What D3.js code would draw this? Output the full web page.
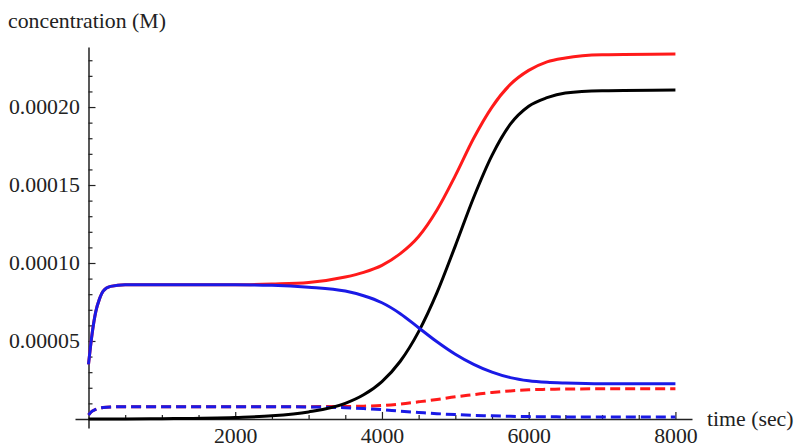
<!DOCTYPE html>
<html lang="en">
<head>
<meta charset="utf-8">
<script src="https://d3js.org/d3.v7.min.js"></script>
<style>
  body { margin: 0; background: #fff; }
  svg text { font-family: "Liberation Serif", "DejaVu Serif", serif; fill: #222; }
</style>
</head>
<body>
<div id="chart"></div>
<script>
// data (concentration in units of 1e-5 M, time in sec)
const times = [0, 50, 100, 150, 200, 300, 500, 1000, 2000, 2500, 3000, 3500, 3750, 4000, 4250, 4500,
               4750, 5000, 5250, 5500, 5750, 6000, 6250, 6500, 7000, 8000];
const redSolid   = [3.5, 5.5, 6.9, 7.7, 8.2, 8.5, 8.6, 8.6, 8.6, 8.65, 8.75, 9.1, 9.4, 9.85, 10.6, 11.7,
                    13.4, 15.6, 18.0, 20.0, 21.45, 22.35, 22.9, 23.15, 23.35, 23.4];
const blackSolid = [0, 0, 0, 0, 0, 0, 0, 0.02, 0.1, 0.2, 0.45, 1.0, 1.55, 2.4, 3.7, 5.6,
                    8.1, 11.1, 14.2, 16.9, 18.9, 20.05, 20.6, 20.9, 21.05, 21.1];
const blueSolid  = [3.5, 5.5, 6.9, 7.7, 8.2, 8.5, 8.6, 8.6, 8.6, 8.57, 8.45, 8.2, 7.9, 7.45, 6.75, 5.85,
                    4.95, 4.15, 3.5, 3.0, 2.65, 2.45, 2.35, 2.3, 2.25, 2.25];
const redDashed  = [0.25, 0.5, 0.62, 0.7, 0.74, 0.77, 0.78, 0.78, 0.78, 0.79, 0.79, 0.8, 0.82, 0.86, 0.96, 1.1,
                    1.25, 1.42, 1.56, 1.7, 1.8, 1.87, 1.9, 1.92, 1.93, 1.93];
const blueDashed = [0.25, 0.5, 0.62, 0.7, 0.74, 0.77, 0.78, 0.78, 0.78, 0.78, 0.77, 0.72, 0.67, 0.6, 0.5, 0.42,
                    0.34, 0.28, 0.23, 0.2, 0.17, 0.15, 0.14, 0.13, 0.13, 0.12];

const xMajor = [2000, 4000, 6000, 8000];
const xLabels = ["2000", "4000", "6000", "8000"];
const xMinor = d3.range(500, 8001, 500);
const yMajor = [0.00005, 0.0001, 0.00015, 0.0002];
const yLabels = ["0.00005", "0.00010", "0.00015", "0.00020"];
const yMinor = d3.range(1, 24).map(d => d * 1e-5);

const W = 794, H = 443;
const stretch = 1.09; // the original text is a bit wider than Liberation Serif

const svg = d3.select("#chart").append("svg")
  .attr("width", W)
  .attr("height", H);

// plot range padded a bit, like the original
const x = d3.scaleLinear().domain([-184, 8226]).range([75, 692]);
const y = d3.scaleLinear().domain([-0.0000058, 0.0002385]).range([428, 47]);

const series = [
  { vals: redDashed,  color: "#ff1a1a", dash: "10,5" },
  { vals: blueDashed, color: "#1a1ae6", dash: "10,5" },
  { vals: redSolid,   color: "#ff1a1a", dash: null },
  { vals: blackSolid, color: "#000000", dash: null },
  { vals: blueSolid,  color: "#1a1ae6", dash: null }
];

const line = d3.line()
  .x(d => x(d[0]))
  .y(d => y(d[1] * 1e-5))
  .curve(d3.curveMonotoneX);

// axes
const xAxisG = svg.append("g").attr("transform", "translate(0," + y(0) + ")");
xAxisG.call(d3.axisBottom(x).tickValues(xMinor).tickSize(-4).tickSizeOuter(0).tickFormat(""));
xAxisG.call(g => g.selectAll(".tick").filter(d => xMajor.includes(d)).remove());
const xMajG = svg.append("g").attr("transform", "translate(0," + y(0) + ")")
  .call(d3.axisBottom(x).tickValues(xMajor).tickSize(-7).tickPadding(10)
    .tickFormat((d, i) => xLabels[i]));
xMajG.select(".domain").remove();

const yAxisG = svg.append("g").attr("transform", "translate(" + x(0) + ",0)");
yAxisG.call(d3.axisLeft(y).tickValues(yMinor.filter(v => !yMajor.some(m => Math.abs(m - v) < 1e-9)))
  .tickSize(-4).tickSizeOuter(0).tickFormat(""));
const yMajG = svg.append("g").attr("transform", "translate(" + x(0) + ",0)")
  .call(d3.axisLeft(y).tickValues(yMajor).tickSize(-7).tickPadding(8)
    .tickFormat((d, i) => yLabels[i]));
yMajG.select(".domain").remove();

svg.selectAll(".domain").attr("stroke", "#222").attr("stroke-width", 1.5);
svg.selectAll(".tick line").attr("stroke", "#222").attr("stroke-width", 1.2);
svg.selectAll(".tick text")
  .style("font-family", '"Liberation Serif", serif')
  .style("font-size", "20px")
  .attr("fill", "#222")
  .attr("transform", "scale(" + stretch + ",1)");

// curves
series.forEach(s => {
  svg.append("path")
    .datum(times.map((t, i) => [t, s.vals[i]]))
    .attr("fill", "none")
    .attr("stroke", s.color)
    .attr("stroke-width", 3)
    .attr("stroke-dasharray", s.dash)
    .attr("d", line);
});

// axis titles
svg.append("text")
  .attr("transform", "translate(8,28) scale(" + stretch + ",1)")
  .style("font-size", "20px")
  .text("concentration (M)");

svg.append("text")
  .attr("transform", "translate(707,426) scale(" + stretch + ",1)")
  .style("font-size", "20px")
  .text("time (sec)");
</script>
</body>
</html>
